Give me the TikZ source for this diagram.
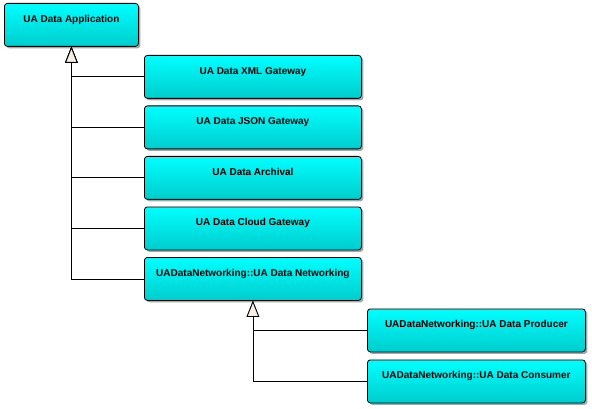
\documentclass[tikz,border=0pt]{standalone}
\usepackage{fontspec}
\setmainfont{Liberation Sans}
\definecolor{ClsTop}{HTML}{00FFFF}
\definecolor{ClsBottom}{HTML}{00CCCC}
\definecolor{TipFill}{HTML}{F5EFE4}
\usetikzlibrary{arrows.meta, shadows}

\begin{document}
\begin{tikzpicture}[x=1pt, y=-1pt, line width=0.8pt,
    cls/.style={draw, rounded corners=3pt, top color=ClsTop,
                bottom color=ClsBottom, anchor=north west,
                drop shadow={shadow xshift=2pt, shadow yshift=-2pt,
                             fill=black!35, opacity=1},
                font=\fontsize{10}{12}\selectfont\bfseries,
                inner ysep=0pt, text height=19pt, text depth=24pt},
    gen/.style={-{Triangle[fill=TipFill, length=16pt, width=12.5pt]}}]
  \useasboundingbox (0,0) rectangle (592,409);
  % Base class
  \node[cls, minimum width=134pt] (app) at (4,3) {UA Data Application};
  % Derived classes
  \node[cls, minimum width=217pt] (xml)  at (144,55)  {UA Data XML Gateway};
  \node[cls, minimum width=217pt] (json) at (144,105.5) {UA Data JSON Gateway};
  \node[cls, minimum width=217pt] (arch) at (144,156) {UA Data Archival};
  \node[cls, minimum width=217pt] (cloud) at (144,206.5) {UA Data Cloud Gateway};
  \node[cls, minimum width=217pt] (net)  at (144,257) {UADataNetworking::UA Data Networking};
  \node[cls, minimum width=218pt] (prod) at (367,308.5) {UADataNetworking::UA Data Producer};
  \node[cls, minimum width=218pt] (cons) at (367,359.5) {UADataNetworking::UA Data Consumer};
  % Generalisations
  \draw[gen] (net.west) -| (app.south);
  \draw[gen] (cloud.west) -| (app.south);
  \draw[gen] (arch.west) -| (app.south);
  \draw[gen] (json.west) -| (app.south);
  \draw[gen] (xml.west) -| (app.south);
  \draw[gen] (cons.west) -| (net.south);
  \draw[gen] (prod.west) -| (net.south);
\end{tikzpicture}
\end{document}
